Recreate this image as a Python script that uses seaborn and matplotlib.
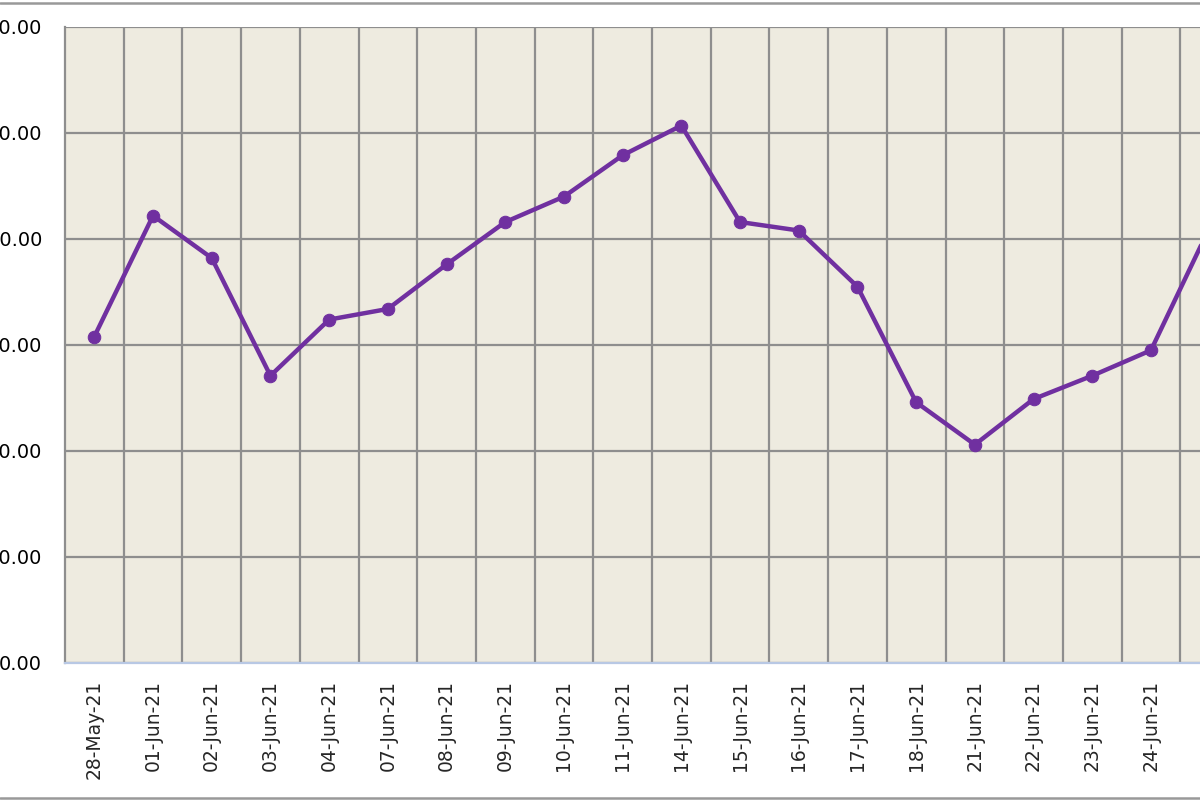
import numpy as np
import pandas as pd
import matplotlib
matplotlib.use("Agg")
import matplotlib.pyplot as plt
import seaborn as sns
from matplotlib.lines import Line2D

# ========== DATA ==========
dates = ["28-May-21", "01-Jun-21", "02-Jun-21", "03-Jun-21", "04-Jun-21",
         "07-Jun-21", "08-Jun-21", "09-Jun-21", "10-Jun-21", "11-Jun-21",
         "14-Jun-21", "15-Jun-21", "16-Jun-21", "17-Jun-21", "18-Jun-21",
         "21-Jun-21", "22-Jun-21", "23-Jun-21", "24-Jun-21", "25-Jun-21"]
values = [30.8, 42.2, 38.2, 27.1, 32.4, 33.4, 37.6, 41.6, 44.0, 47.9,
          50.7, 41.6, 40.8, 35.5, 24.6, 20.6, 24.9, 27.1, 29.5, 41.1]
y_ticks = [0, 10, 20, 30, 40, 50, 60]

df = pd.DataFrame({"date": dates, "value": values})

# ========== STYLE ==========
sns.set_style("white")
plt.rcParams["font.family"] = ["DejaVu Sans"]

purple = "#7030A0"
grid_col = "#8E8E8E"
bg = "#EEEBE0"

fig = plt.figure(figsize=(12, 8), dpi=100)
# plot area runs off the right edge, like the cropped original
ax = fig.add_axes([65 / 1200, 137 / 800, 1174 / 1200, 636 / 800])
ax.set_facecolor(bg)

sns.lineplot(data=df, x="date", y="value", ax=ax, color=purple,
             linewidth=3.2, marker="o", markersize=9,
             markeredgecolor=purple, sort=False)

ax.set_xlim(-0.5, len(dates) - 0.5)
ax.set_ylim(y_ticks[0], y_ticks[-1])
ax.set_yticks(y_ticks)
ax.set_yticklabels([f"{v:.2f}" for v in y_ticks])
ax.set_xticks(range(len(dates)))
ax.set_xticklabels(dates, rotation=90, va="top", ha="center")
ax.set_xticks(np.arange(len(dates)) + 0.5, minor=True)

ax.tick_params(axis="y", length=0, pad=16.5, labelsize=14, labelcolor="black")
ax.tick_params(axis="x", which="both", length=0, pad=12, labelsize=13.5)

ax.grid(axis="y", which="major", color=grid_col, linewidth=1.6)
ax.grid(axis="x", which="minor", color=grid_col, linewidth=1.6)
ax.set_axisbelow(True)

for side in ["top", "right"]:
    ax.spines[side].set_visible(False)
ax.spines["left"].set_color(grid_col)
ax.spines["left"].set_linewidth(1.6)
ax.spines["bottom"].set_color("#B8C8E4")
ax.spines["bottom"].set_linewidth(1.6)

ax.set_xlabel("")
ax.set_ylabel("")

# outer frame lines at top and bottom
fig.add_artist(Line2D([0, 1], [1 - 2.5 / 800, 1 - 2.5 / 800], color="#999999", linewidth=1.8))
fig.add_artist(Line2D([0, 1], [2 / 800, 2 / 800], color="#999999", linewidth=1.8))

fig.savefig("out.png", dpi=100)
